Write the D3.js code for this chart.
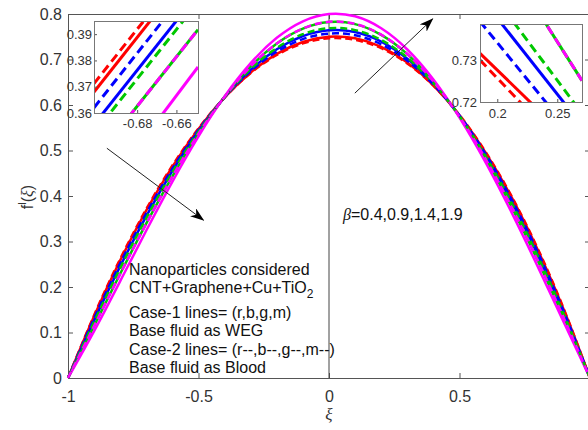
<!DOCTYPE html>
<html>
<head>
<meta charset="utf-8">
<script src="https://cdn.jsdelivr.net/npm/d3@7"></script>
<style>
body { margin: 0; background: #fff; }
text { font-family: "Liberation Sans", Arial, sans-serif; }
</style>
</head>
<body>
<script>
/*--- data ---*/
let xi = [-1,-0.9,-0.8,-0.7,-0.6,-0.5,-0.4,-0.3,-0.2,-0.1,0,0.1,0.2,0.3,0.4,0.5,0.6,0.7,0.8,0.9,1];

// case-1 (solid)
let redSolid   = [0,0.1357,0.2585,0.3682,0.4646,0.5475,0.6166,0.6716,0.7123,0.7385,0.7500,0.7465,0.7277,0.6934,0.6434,0.5775,0.4954,0.3968,0.2815,0.1493,0];
let blueSolid  = [0,0.1264,0.2455,0.3557,0.4552,0.5429,0.6172,0.6774,0.7224,0.7515,0.7643,0.7603,0.7394,0.7016,0.6470,0.5761,0.4892,0.3873,0.2710,0.1415,0];
let greenSolid = [0,0.1146,0.2291,0.3398,0.4434,0.5370,0.6181,0.6847,0.7351,0.7679,0.7823,0.7777,0.7541,0.7118,0.6515,0.5742,0.4815,0.3753,0.2577,0.1316,0];
let magSolid   = [0,0.1030,0.2129,0.3241,0.4317,0.5312,0.6190,0.6919,0.7476,0.7840,0.8000,0.7949,0.7687,0.7220,0.6559,0.5724,0.4739,0.3634,0.2446,0.1219,0];
// case-2 (dashed)
let redDashed   = [0,0.1379,0.2617,0.3713,0.4670,0.5486,0.6164,0.6702,0.7099,0.7354,0.7465,0.7431,0.7248,0.6914,0.6426,0.5779,0.4969,0.3991,0.2841,0.1513,0];
let blueDashed  = [0,0.1311,0.2521,0.3620,0.4600,0.5452,0.6169,0.6744,0.7173,0.7449,0.7570,0.7532,0.7334,0.6974,0.6452,0.5768,0.4924,0.3921,0.2764,0.1455,0];
let greenDashed = [0,0.1234,0.2414,0.3517,0.4523,0.5414,0.6175,0.6792,0.7255,0.7556,0.7688,0.7646,0.7431,0.7041,0.6481,0.5756,0.4873,0.3843,0.2677,0.1390,0];
let magDashed   = [0,0.1143,0.2287,0.3393,0.4430,0.5368,0.6181,0.6849,0.7354,0.7683,0.7828,0.7782,0.7546,0.7121,0.6516,0.5742,0.4813,0.3749,0.2574,0.1313,0];

// insets: values at the two ends, same order as series below (rS,bS,gS,mS,rD,bD,gD,mD)
let leftInsetXi = [-0.702, -0.649];
let leftInsetVals = [[0.368,0.418],[0.3556,0.4054],[0.3419,0.3917],[0.325,0.3775],
                     [0.3712,0.421],[0.362,0.412],[0.3523,0.4021],[0.3419,0.3917]];
let rightInsetXi = [0.1856, 0.2706];
let rightInsetVals = [[0.7316,0.7080],[0.7452,0.7144],[0.7634,0.7251],[0.7769,0.7386],
                      [0.7300,0.7045],[0.7392,0.7094],[0.7497,0.7173],[0.7634,0.7251]];

let xTicks = [-1,-0.5,0,0.5,1];
let xTickLabels = [-1,-0.5,0,0.5];   // the "1" label falls off the picture
let yTicks = [0,0.1,0.2,0.3,0.4,0.5,0.6,0.7,0.8];
let leftInsetXTicks = [-0.68,-0.66];
let leftInsetYTicks = [0.36,0.37,0.38,0.39];
let rightInsetXTicks = [0.2,0.25];
let rightInsetYTicks = [0.72,0.73];

let arrow1 = [[-0.851,0.505],[-0.481,0.347]];
let arrow2 = [[0.099,0.626],[0.397,0.789]];

let noteLines = ["Nanoparticles considered", "CNT+Graphene+Cu+TiO", "Case-1 lines= (r,b,g,m)",
                 "Base fluid as WEG", "Case-2 lines= (r--,b--,g--,m--)", "Base fluid as Blood"];

let colors = ["#ff0000","#0000ff","#00c800","#ff00ff"];

/*--- build series ---*/
let mainVals = [redSolid, blueSolid, greenSolid, magSolid, redDashed, blueDashed, greenDashed, magDashed];
let series = mainVals.map(function(v, i) {
    return {
        color: colors[i % 4],
        dashed: i >= 4,
        points: xi.map(function(x, j) { return [x, v[j]]; }),
        left: leftInsetXi.map(function(x, j) { return [x, leftInsetVals[i][j]]; }),
        right: rightInsetXi.map(function(x, j) { return [x, rightInsetVals[i][j]]; })
    };
});

/*--- scales ---*/
let X = d3.scaleLinear().domain([-1,1]).range([68,590]);
let Y = d3.scaleLinear().domain([0,0.8]).range([378,14]);
let axisColor = "#555";
let fmt = function(d) { return String(d); };

let svg = d3.select("body").append("svg")
    .attr("width", 588).attr("height", 430)
    .style("background", "#fff");

svg.append("defs").append("marker")
    .attr("id", "head")
    .attr("viewBox", "0 0 14 10")
    .attr("refX", 13).attr("refY", 5)
    .attr("markerWidth", 14).attr("markerHeight", 10)
    .attr("markerUnits", "userSpaceOnUse")
    .attr("orient", "auto")
    .append("path")
    .attr("d", "M0,0 L14,5 L0,10 L4,5 Z")
    .attr("fill", "#000");

/*--- axes ---*/
function styleAxis(g) {
    g.select(".domain").attr("stroke", axisColor);
    g.selectAll(".tick line").attr("stroke", axisColor);
    g.selectAll(".tick text").attr("fill", "#333").style("font-size", "16px");
}

svg.append("g").attr("transform", "translate(0,378)")
    .call(d3.axisBottom(X).tickValues(xTickLabels).tickSizeInner(-5).tickSizeOuter(0).tickPadding(13).tickFormat(fmt))
    .call(styleAxis);
svg.append("g").attr("transform", "translate(0,14)")
    .call(d3.axisTop(X).tickValues(xTicks).tickSizeInner(-5).tickSizeOuter(0).tickFormat(""))
    .call(styleAxis);
svg.append("g").attr("transform", "translate(68,0)")
    .call(d3.axisLeft(Y).tickValues(yTicks).tickSizeInner(-5).tickSizeOuter(0).tickPadding(6).tickFormat(fmt))
    .call(styleAxis);
svg.append("g").attr("transform", "translate(590,0)")
    .call(d3.axisRight(Y).tickValues(yTicks).tickSizeInner(-5).tickSizeOuter(0).tickFormat(""))
    .call(styleAxis);

// vertical line at xi = 0
svg.append("line")
    .attr("x1", X(0)).attr("x2", X(0))
    .attr("y1", Y(0.8)).attr("y2", Y(0))
    .attr("stroke", "#444").attr("stroke-width", 1);

/*--- curves ---*/
let linea = d3.line()
    .x(function(d) { return X(d[0]); })
    .y(function(d) { return Y(d[1]); })
    .curve(d3.curveNatural);

svg.append("g").selectAll("path")
    .data(series)
    .join("path")
    .attr("fill", "none")
    .attr("stroke", function(d) { return d.color; })
    .attr("stroke-width", 2.5)
    .attr("stroke-dasharray", function(d) { return d.dashed ? "7,4" : null; })
    .attr("d", function(d) { return linea(d.points); });

/*--- text ---*/
let note = svg.append("g").attr("fill", "#111").style("font-size", "16px");
let baselines = [275, 293.3, 318.3, 336, 355, 373.3];
noteLines.forEach(function(t, i) {
    let tx = note.append("text").attr("x", 129).attr("y", baselines[i]).text(t);
    if (i == 1) {
        tx.append("tspan").attr("dy", 5).style("font-size", "12px").text("2");
    }
});

let beta = svg.append("text").attr("x", 343).attr("y", 220).attr("fill", "#111").style("font-size", "16px");
beta.append("tspan").style("font-family", "'Liberation Serif', serif").style("font-style", "italic").text("β");
beta.append("tspan").text("=0.4,0.9,1.4,1.9");

svg.append("text")
    .attr("x", X(0)).attr("y", 420)
    .attr("text-anchor", "middle")
    .style("font-family", "'Liberation Serif', serif").style("font-style", "italic")
    .style("font-size", "17px").attr("fill", "#333")
    .text("ξ");

let ylab = svg.append("text")
    .attr("transform", "translate(33,197) rotate(-90)")
    .attr("text-anchor", "middle").attr("fill", "#333")
    .style("font-size", "16px");
ylab.append("tspan").text("f");
ylab.append("tspan").attr("dy", -7).style("font-size", "11px").text("l");
ylab.append("tspan").attr("dy", 7).text("(");
ylab.append("tspan").style("font-family", "'Liberation Serif', serif").style("font-style", "italic").text("ξ");
ylab.append("tspan").text(")");

/*--- arrows ---*/
[arrow1, arrow2].forEach(function(a) {
    svg.append("line")
        .attr("x1", X(a[0][0])).attr("y1", Y(a[0][1]))
        .attr("x2", X(a[1][0])).attr("y2", Y(a[1][1]))
        .attr("stroke", "#222").attr("stroke-width", 1)
        .attr("marker-end", "url(#head)");
});

/*--- insets ---*/
function inset(id, x0, y0, w, h, xdom, ydom, xt, yt, key, xpad, ypad) {
    let ix = d3.scaleLinear().domain(xdom).range([x0, x0 + w]);
    let iy = d3.scaleLinear().domain(ydom).range([y0 + h, y0]);
    let g = svg.append("g");
    g.append("rect").attr("x", x0).attr("y", y0).attr("width", w).attr("height", h).attr("fill", "#fff");
    g.append("clipPath").attr("id", id).append("rect")
        .attr("x", x0).attr("y", y0).attr("width", w).attr("height", h);
    let il = d3.line().x(function(d) { return ix(d[0]); }).y(function(d) { return iy(d[1]); });
    g.append("g").attr("clip-path", "url(#" + id + ")")
        .selectAll("path").data(series).join("path")
        .attr("fill", "none")
        .attr("stroke", function(d) { return d.color; })
        .attr("stroke-width", 3)
        .attr("stroke-dasharray", function(d) { return d.dashed ? "9,5" : null; })
        .attr("d", function(d) { return il(d[key]); });
    g.append("g").attr("transform", "translate(0," + (y0 + h) + ")")
        .call(d3.axisBottom(ix).tickValues(xt).tickSizeInner(-3).tickSizeOuter(0).tickPadding(xpad).tickFormat(fmt))
        .call(styleAxis)
        .selectAll(".tick text").style("font-size", "13px");
    g.append("g").attr("transform", "translate(" + x0 + ",0)")
        .call(d3.axisLeft(iy).tickValues(yt).tickSizeInner(-3).tickSizeOuter(0).tickPadding(ypad).tickFormat(fmt))
        .call(styleAxis)
        .selectAll(".tick text").style("font-size", "13px");
    g.append("rect").attr("x", x0 + 0.5).attr("y", y0 + 0.5).attr("width", w).attr("height", h)
        .attr("fill", "none").attr("stroke", "#777").attr("stroke-width", 1);
}

inset("clipL", 94, 21, 104, 92, [-0.702,-0.649], [0.36,0.395], leftInsetXTicks, leftInsetYTicks, "left", 6, 2);
inset("clipR", 480, 24, 102, 78, [0.1856,0.2706], [0.72,0.7386], rightInsetXTicks, rightInsetYTicks, "right", 7, 3);
</script>
</body>
</html>
